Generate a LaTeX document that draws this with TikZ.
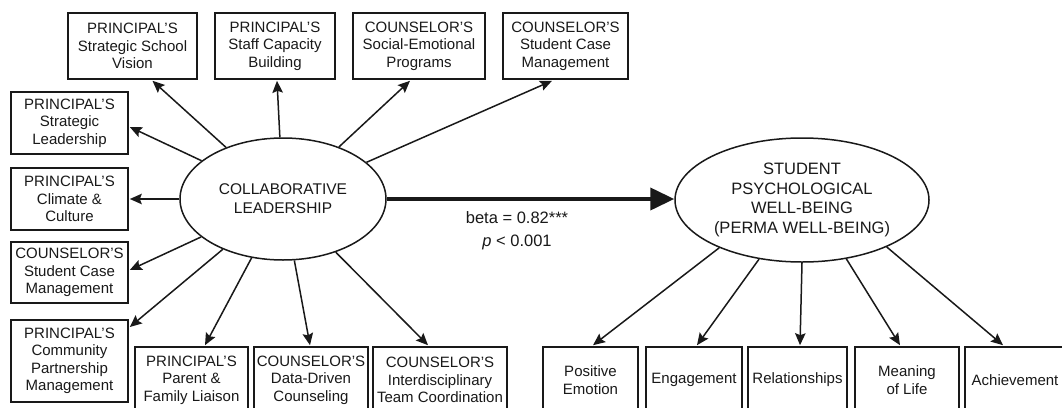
\documentclass[tikz,border=0pt]{standalone}
\usepackage{fontspec}
\setmainfont{Liberation Sans}
\usetikzlibrary{shapes.geometric,arrows.meta,calc}
\definecolor{ink}{RGB}{25,25,25}
\definecolor{txt}{RGB}{25,25,25}
\begin{document}
\begin{tikzpicture}[x=1pt,y=-1pt,
  box/.style={draw=ink,line width=1.6pt,fill=white,inner sep=0pt,align=center,text=txt,font=\fontsize{15}{17.5}\selectfont},
  ell/.style={draw=ink,line width=1.5pt,ellipse,inner sep=0pt,align=center,text=txt},
  arr/.style={draw=ink,line width=1.5pt,-{Stealth[length=12pt,width=10.5pt,inset=2pt]}},
  big/.style={draw=ink,line width=4pt,-{Triangle[length=24pt,width=22pt]}},
  lbl/.style={text=txt,align=center,inner sep=0pt,font=\fontsize{16.5}{23}\selectfont}]
\useasboundingbox (0,0) rectangle (1062,407);
\clip (0,0) rectangle (1062,407);
\fill[white] (0,0) rectangle (1062,407);

% ellipses
\node[ell,minimum width=206,minimum height=122,font=\fontsize{15.5}{19}\selectfont] (L) at (283,199) {COLLABORATIVE\\LEADERSHIP};
\node[ell,minimum width=254,minimum height=124,font=\fontsize{16.5}{19.5}\selectfont] (R) at (802,200) {STUDENT\\PSYCHOLOGICAL\\WELL-BEING\\(PERMA WELL-BEING)};

% top boxes
\node[box,minimum width=129,minimum height=66] (t1) at (132.5,46) {PRINCIPAL'S\\Strategic School\\Vision};
\node[box,minimum width=120,minimum height=66] (t2) at (275,46) {PRINCIPAL'S\\Staff Capacity\\Building};
\node[box,minimum width=132,minimum height=66] (t3) at (419,46) {COUNSELOR'S\\Social-Emotional\\Programs};
\node[box,minimum width=125,minimum height=66] (t4) at (565.5,46) {COUNSELOR'S\\Student Case\\Management};

% left boxes
\node[box,minimum width=117,minimum height=62] (l1) at (69.5,123) {PRINCIPAL'S\\Strategic\\Leadership};
\node[box,minimum width=117,minimum height=62] (l2) at (69.5,199) {PRINCIPAL'S\\Climate \&\\Culture};
\node[box,minimum width=117,minimum height=61] (l3) at (69.5,272.5) {COUNSELOR'S\\Student Case\\Management};
\node[box,minimum width=117,minimum height=82] (l4) at (69.5,361) {PRINCIPAL'S\\Community\\Partnership\\Management};

% bottom left boxes
\node[box,minimum width=113,minimum height=66] (b1) at (191.5,380) {PRINCIPAL'S\\Parent \&\\Family Liaison};
\node[box,minimum width=114,minimum height=66] (b2) at (311,380) {COUNSELOR'S\\Data-Driven\\Counseling};
\node[box,minimum width=134,minimum height=66] (b3) at (440,380) {COUNSELOR'S\\Interdisciplinary\\Team Coordination};

% bottom right boxes
\node[box,minimum width=95,minimum height=66] (r1) at (590.5,380) {Positive\\Emotion};
\node[box,minimum width=96,minimum height=66] (r2) at (694,380) {Engagement};
\node[box,minimum width=99,minimum height=66] (r3) at (797.5,380) {Relationships};
\node[box,minimum width=104,minimum height=66] (r4) at (907,380) {Meaning\\of Life};
\node[box,minimum width=100,minimum height=66] (r5) at (1015,380) {Achievement};

% arrows from left ellipse
\draw[arr] (L) -- ($(t1.south)+(20,1)$);
\draw[arr] (L) -- ($(t2.south)+(2,1)$);
\draw[arr] (L) -- ($(t3.south)+(-9,1)$);
\draw[arr] (L) -- ($(t4.south)+(-13.5,1)$);
\draw[arr] (L) -- ($(l1.east)+(1,4)$);
\draw[arr] (L) -- ($(l2.east)+(1,0)$);
\draw[arr] (L) -- ($(l3.east)+(1,-2.5)$);
\draw[arr] (L) -- ($(l4.east)+(1,-34)$);
\draw[arr] (L) -- ($(b1.north)+(13.5,-1)$);
\draw[arr] (L) -- ($(b2.north)+(-1,-1)$);
\draw[arr] (L) -- ($(b3.north)+(-12,-1)$);

% arrows from right ellipse
\draw[arr] (R.-150) -- ($(r1.north)+(2.5,-1)$);
\draw[arr] (R.-126) -- ($(r2.north)+(3,-1)$);
\draw[arr] (R.-90) -- ($(r3.north)+(2.5,-1)$);
\draw[arr] (R.-53) -- ($(r4.north)+(-7,-1)$);
\draw[arr] (R.-29) -- ($(r5.north)+(-12,-1)$);

% main path
\draw[big] (L.east) -- (L.east -| R.west);
\node[lbl] (beta) at (517,231) {beta = 0.82***\\\textit{p} < 0.001};
\end{tikzpicture}
\end{document}
